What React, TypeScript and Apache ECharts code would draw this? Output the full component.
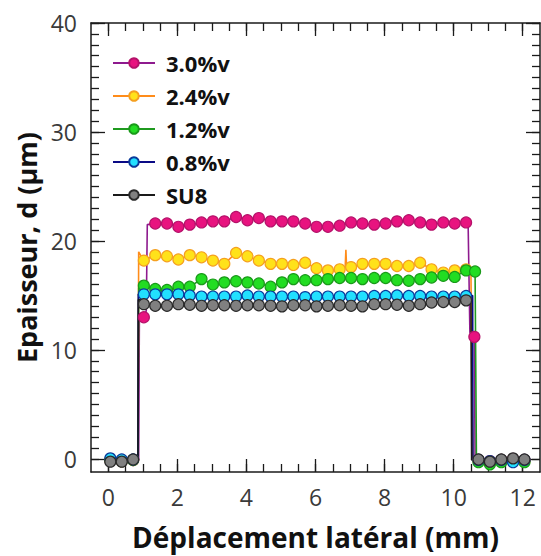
import React, { useEffect, useRef } from "react";
import * as echarts from "echarts";

// ---- data ----
const seriesNames = ["3.0%v", "2.4%v", "1.2%v", "0.8%v", "SU8"];

const xMajorTicks = [0, 2, 4, 6, 8, 10, 12];
const xMinorTicks = [0, 0.5, 1, 1.5, 2, 2.5, 3, 3.5, 4, 4.5, 5, 5.5, 6, 6.5, 7, 7.5, 8, 8.5, 9, 9.5, 10, 10.5, 11, 11.5, 12];
const yMajorTicks = [0, 10, 20, 30, 40];
const yMinorTicks = [0, 1, 2, 3, 4, 5, 6, 7, 8, 9, 10, 11, 12, 13, 14, 15, 16, 17, 18, 19, 20, 21, 22, 23, 24, 25, 26, 27, 28, 29, 30, 31, 32, 33, 34, 35, 36, 37, 38, 39, 40];

const baseLeftX = [0.06, 0.39, 0.72];
const baseRightX = [10.72, 11.05, 11.38, 11.72, 12.05];
const plateauX = [1.03, 1.36, 1.70, 2.03, 2.36, 2.70, 3.03, 3.36, 3.70, 4.03, 4.36, 4.70, 5.03, 5.36, 5.70, 6.03, 6.36, 6.70, 7.03, 7.36, 7.70, 8.03, 8.36, 8.70, 9.03, 9.36, 9.70, 10.03, 10.36];

// 3.0%v
const pinkBaseL = [-0.15, -0.2, -0.1];
const pinkBaseR = [-0.1, -0.2, -0.1, 0.0, -0.1];
const pinkRise = [[0.88, -0.1], [0.9, 12.6]];
const pinkRiseMarker = [1.03, 13.0];
const pinkRise2 = [[1.1, 13.6], [1.13, 21.5]];
const pinkPlateau = [21.6, 21.6, 21.3, 21.5, 21.7, 21.8, 21.8, 22.2, 21.9, 22.1, 21.8, 21.8, 21.8, 21.6, 21.3, 21.3, 21.4, 21.7, 21.6, 21.5, 21.6, 21.8, 21.9, 21.7, 21.5, 21.7, 21.6, 21.7];
const pinkFall = [[10.42, 21.4], [10.47, 11.6]];
const pinkFallMarker = [10.6, 11.2];
const pinkFall2 = [[10.62, -0.1]];

// 2.4%v
const orangeBaseL = [-0.1, -0.2, -0.1];
const orangeBaseR = [-0.2, -0.3, -0.1, -0.1, -0.2];
const orangeRise = [[0.86, -0.1], [0.88, 19.0], [0.95, 18.6]];
const orangePlateau = [18.2, 18.7, 18.6, 18.3, 18.7, 18.5, 18.2, 17.9, 18.9, 18.6, 18.2, 17.9, 17.9, 17.8, 18.0, 17.5, 17.3, 17.4, 17.6, 17.9, 17.9, 17.9, 17.7, 17.7, 18.0, 17.4, 17.1, 17.3, 17.4];
const orangeSpike = [[6.86, 17.6], [6.88, 19.2], [6.9, 17.6]];
const orangeFall = [[10.5, 17.3], [10.55, -0.1]];

// 1.2%v
const greenBaseL = [-0.1, -0.2, -0.1];
const greenBaseR = [-0.3, -0.5, -0.3, -0.2, -0.3];
const greenRise = [[0.86, -0.1], [0.88, 15.7]];
const greenPlateau = [15.9, 15.6, 15.5, 15.8, 15.8, 16.5, 16.0, 16.2, 16.3, 16.2, 16.1, 15.8, 16.2, 16.5, 16.4, 16.4, 16.5, 16.6, 16.6, 16.5, 16.6, 16.6, 16.4, 16.35, 16.5, 16.65, 16.8, 16.7, 17.3];
const greenEndMarker = [10.62, 17.2];
const greenFall = [[10.66, -0.2]];

// 0.8%v
const cyanBaseL = [0.05, -0.05, -0.05];
const cyanBaseR = [-0.1, -0.2, -0.1, -0.3, -0.1];
const cyanRise = [[0.86, 0.0], [0.87, 15.1]];
const cyanPlateau = [15.1, 15.1, 15.1, 15.1, 15.0, 14.9, 14.9, 14.9, 14.9, 15.0, 14.9, 14.9, 14.9, 14.9, 14.85, 14.9, 14.9, 14.9, 14.9, 14.9, 14.95, 14.95, 15.0, 14.95, 14.95, 14.9, 14.9, 14.9, 14.95];
const cyanFall = [[10.55, 15.0], [10.56, -0.1]];

// SU8
const grayBaseL = [-0.25, -0.25, -0.05];
const grayBaseR = [-0.05, -0.25, -0.05, 0.05, -0.05];
const grayRise = [[0.86, -0.05], [0.87, 14.6], [0.95, 14.6]];
const grayPlateau = [14.2, 14.05, 14.05, 14.2, 14.15, 14.05, 14.1, 14.1, 14.05, 14.1, 14.1, 14.05, 14.0, 14.1, 14.1, 14.0, 14.05, 14.1, 14.05, 14.0, 14.2, 14.2, 14.15, 14.05, 14.2, 14.35, 14.4, 14.4, 14.55];
const grayFall = [[10.5, 14.6], [10.52, -0.1]];

const FONT = "'Open Sans', 'Noto Sans', sans-serif";

type Pt = { value: number[]; symbol?: string };

function markers(xs: number[], ys: number[]): Pt[] {
  return xs.slice(0, ys.length).map((x, i) => ({ value: [x, ys[i]] }));
}
function plain(pts: number[][]): Pt[] {
  return pts.map((p) => ({ value: p, symbol: "none" }));
}

function mkSeries(name: string, data: Pt[], line: string, fill: string, border: string) {
  return {
    name,
    type: "line",
    data,
    symbol: "circle",
    symbolSize: 11,
    showAllSymbol: true,
    lineStyle: { color: line, width: 1.6 },
    itemStyle: { color: fill, borderColor: border, borderWidth: 1.2 },
    z: 2,
  };
}

export default function App() {
  const ref = useRef<HTMLDivElement>(null);
  useEffect(() => {
    if (!ref.current) return;
    const chart = echarts.init(ref.current, undefined, { renderer: "svg" });

    const orangeMid = [...markers(plateauX, orangePlateau), ...plain(orangeSpike)].sort(
      (a, b) => a.value[0] - b.value[0]
    );

    const pinkData: Pt[] = [
      ...markers(baseLeftX, pinkBaseL),
      ...plain(pinkRise),
      { value: pinkRiseMarker },
      ...plain(pinkRise2),
      ...markers(plateauX.slice(1), pinkPlateau),
      ...plain(pinkFall),
      { value: pinkFallMarker },
      ...plain(pinkFall2),
      ...markers(baseRightX, pinkBaseR),
    ];
    const orangeData: Pt[] = [
      ...markers(baseLeftX, orangeBaseL),
      ...plain(orangeRise),
      ...orangeMid,
      ...plain(orangeFall),
      ...markers(baseRightX, orangeBaseR),
    ];
    const greenData: Pt[] = [
      ...markers(baseLeftX, greenBaseL),
      ...plain(greenRise),
      ...markers(plateauX, greenPlateau),
      { value: greenEndMarker },
      ...plain(greenFall),
      ...markers(baseRightX, greenBaseR),
    ];
    const cyanData: Pt[] = [
      ...markers(baseLeftX, cyanBaseL),
      ...plain(cyanRise),
      ...markers(plateauX, cyanPlateau),
      ...plain(cyanFall),
      ...markers(baseRightX, cyanBaseR),
    ];
    const grayData: Pt[] = [
      ...markers(baseLeftX, grayBaseL),
      ...plain(grayRise),
      ...markers(plateauX, grayPlateau),
      ...plain(grayFall),
      ...markers(baseRightX, grayBaseR),
    ];

    const axisColor = "#1a1a1a";
    const tickStyle = { color: axisColor, width: 1.3 };
    const lineOn = { show: true, onZero: false, lineStyle: { color: axisColor, width: 1.5 } };
    const lineOff = { show: false, onZero: false };
    const xCommon = { type: "value", min: -0.5, max: 12.5, splitLine: { show: false } };
    const yCommon = { type: "value", min: -1.2, max: 40, splitLine: { show: false } };

    const option: any = {
      animation: false,
      backgroundColor: "#ffffff",
      grid: { left: 91, right: 1, top: 23, bottom: 81, containLabel: false },
      legend: {
        orient: "vertical",
        left: 107,
        top: 47,
        itemWidth: 42,
        itemHeight: 12,
        itemGap: 11,
        data: seriesNames,
        textStyle: {
          fontFamily: FONT,
          fontSize: 22,
          fontWeight: "bold",
          color: "#111",
          padding: [0, 0, 0, 6],
          lineHeight: 22,
        },
      },
      xAxis: [
        {
          ...xCommon,
          position: "bottom",
          axisLine: lineOn,
          axisTick: { show: true, inside: true, length: 8, customValues: xMinorTicks, lineStyle: tickStyle },
          axisLabel: { show: true, customValues: xMajorTicks, fontFamily: FONT, fontSize: 23, color: "#3a3a3a", margin: 13 },
          name: "Déplacement latéral (mm)",
          nameLocation: "middle",
          nameGap: 51,
          nameTextStyle: { fontFamily: FONT, fontSize: 28, fontWeight: "bold", color: "#111" },
        },
        {
          ...xCommon,
          position: "bottom",
          axisLine: lineOff,
          axisTick: { show: true, inside: true, length: 13, customValues: xMajorTicks, lineStyle: tickStyle },
          axisLabel: { show: false },
        },
        {
          ...xCommon,
          position: "top",
          axisLine: lineOn,
          axisTick: { show: true, inside: true, length: 8, customValues: xMinorTicks, lineStyle: tickStyle },
          axisLabel: { show: false },
        },
        {
          ...xCommon,
          position: "top",
          axisLine: lineOff,
          axisTick: { show: true, inside: true, length: 13, customValues: xMajorTicks, lineStyle: tickStyle },
          axisLabel: { show: false },
        },
      ],
      yAxis: [
        {
          ...yCommon,
          position: "left",
          axisLine: lineOn,
          axisTick: { show: true, inside: true, length: 8, customValues: yMinorTicks, lineStyle: tickStyle },
          axisLabel: { show: true, customValues: yMajorTicks, fontFamily: FONT, fontSize: 23, color: "#3a3a3a", margin: 14 },
          name: "Epaisseur, d (µm)",
          nameLocation: "middle",
          nameGap: 44,
          nameRotate: 90,
          nameTextStyle: { fontFamily: FONT, fontSize: 27, fontWeight: "bold", color: "#111" },
        },
        {
          ...yCommon,
          position: "left",
          axisLine: lineOff,
          axisTick: { show: true, inside: true, length: 14, customValues: yMajorTicks, lineStyle: tickStyle },
          axisLabel: { show: false },
        },
        {
          ...yCommon,
          position: "right",
          axisLine: lineOn,
          axisTick: { show: true, inside: true, length: 8, customValues: yMinorTicks, lineStyle: tickStyle },
          axisLabel: { show: false },
        },
        {
          ...yCommon,
          position: "right",
          axisLine: lineOff,
          axisTick: { show: true, inside: true, length: 14, customValues: yMajorTicks, lineStyle: tickStyle },
          axisLabel: { show: false },
        },
      ],
      series: [
        mkSeries(seriesNames[0], pinkData, "#8e1a8e", "#e8137f", "#b5126a"),
        mkSeries(seriesNames[1], orangeData, "#ff8c1a", "#ffe21a", "#f5a020"),
        mkSeries(seriesNames[2], greenData, "#1f9a1f", "#22dd22", "#1a9a1a"),
        mkSeries(seriesNames[3], cyanData, "#0a0a85", "#22e0ff", "#0a3a9a"),
        mkSeries(seriesNames[4], grayData, "#1a1a1a", "#808080", "#2a2a2a"),
      ],
    };
    chart.setOption(option);
    return () => chart.dispose();
  }, []);
  return (
    <div
      ref={ref}
      style={{ position: "absolute", left: 0, top: 0, width: 541, height: 556 }}
    />
  );
}
